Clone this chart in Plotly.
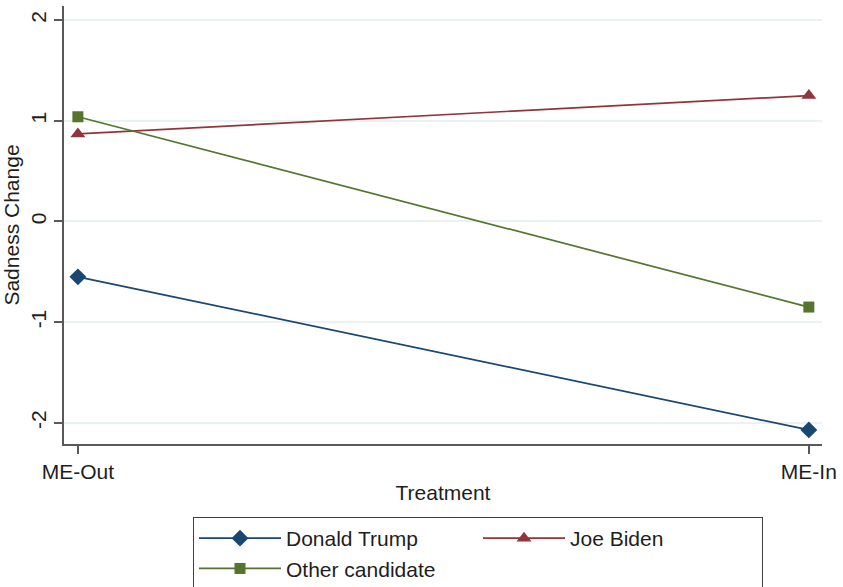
import plotly.graph_objects as go

# Treatment groups and mean sadness change by vote choice
treatments = ["ME-Out", "ME-In"]
trump = [-0.55, -2.07]
biden = [0.87, 1.25]
other = [1.04, -0.85]

y_ticks = [-2, -1, 0, 1, 2]

FONT = "Liberation Sans, Arial, sans-serif"
AXIS_COLOR = "#595959"
GRID_COLOR = "#eaf2f3"
FS = 21

series = [
    ("Donald Trump", trump, "#1a476f", "diamond", 13),
    ("Joe Biden", biden, "#90353b", "triangle-up", 13),
    ("Other candidate", other, "#55752f", "square", 11),
]

fig = go.Figure()
for name, vals, color, symbol, size in series:
    fig.add_trace(go.Scatter(
        x=[0, 1],
        y=vals,
        mode="lines+markers",
        name=name,
        line=dict(color=color, width=1.7),
        marker=dict(color=color, symbol=symbol, size=size),
    ))

fig.update_layout(
    width=843,
    height=587,
    margin=dict(l=64, r=18, t=6, b=143),
    paper_bgcolor="white",
    plot_bgcolor="white",
    font=dict(family=FONT, size=FS, color="#1e1e1e"),
    showlegend=True,
    legend=dict(
        orientation="h",
        x=193 / 843,
        xanchor="left",
        xref="container",
        y=(587 - 517) / 587,
        yanchor="top",
        yref="container",
        bordercolor="#404040",
        borderwidth=1,
        font=dict(size=FS, color="#1e1e1e"),
        entrywidth=187,
        entrywidthmode="pixels",
        itemwidth=82,
        tracegroupgap=0,
    ),
    xaxis=dict(
        range=[-0.019, 1.018],
        tickvals=[0, 1],
        ticktext=treatments,
        ticks="outside",
        ticklen=8,
        tickcolor=AXIS_COLOR,
        tickwidth=1.5,
        showline=True,
        linecolor=AXIS_COLOR,
        linewidth=1.5,
        showgrid=False,
        zeroline=False,
        title=dict(text="Treatment", standoff=3, font=dict(size=FS)),
        tickfont=dict(size=FS),
    ),
    yaxis=dict(
        range=[-2.21, 2.14],
        tickvals=y_ticks,
        ticktext=[str(v) for v in y_ticks],
        tickangle=-90,
        ticks="outside",
        ticklen=8,
        tickcolor=AXIS_COLOR,
        tickwidth=1.5,
        showline=True,
        linecolor=AXIS_COLOR,
        linewidth=1.5,
        showgrid=True,
        gridcolor=GRID_COLOR,
        gridwidth=1.5,
        zeroline=False,
        title=dict(text="Sadness Change", standoff=2, font=dict(size=FS)),
        tickfont=dict(size=FS),
    ),
)

fig.write_html("out.html")
